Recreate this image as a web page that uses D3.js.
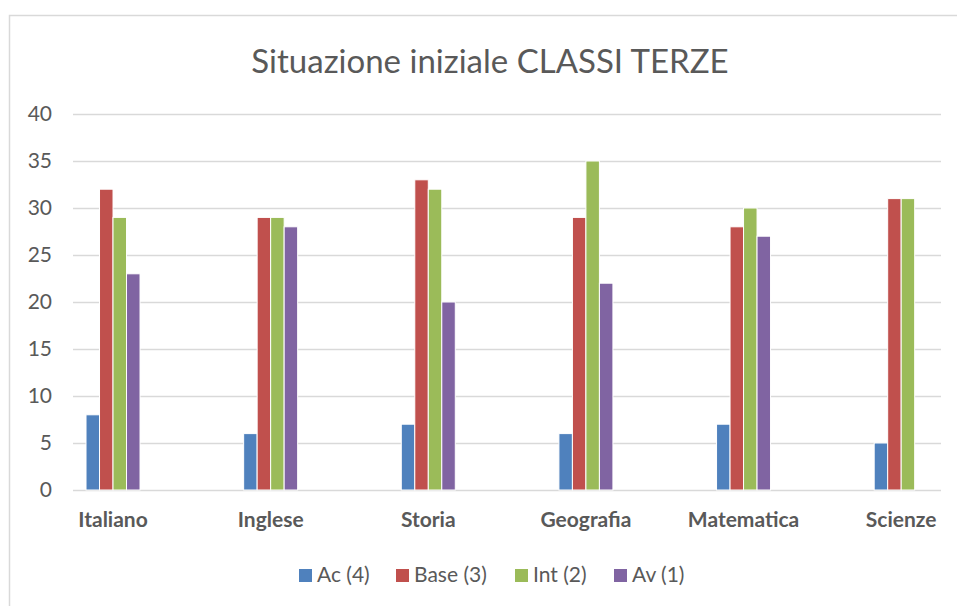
<!DOCTYPE html>
<html>
<head>
<meta charset="utf-8">
<script src="https://cdn.jsdelivr.net/npm/d3@7"></script>
<style>
  body { margin: 0; background: #fff; }
  text { font-family: Lato, "Open Sans", sans-serif; fill: #595959; }
</style>
</head>
<body>
<div id="chart"></div>
<script>
const categories = ["Italiano", "Inglese", "Storia", "Geografia", "Matematica", "Scienze"];
const seriesNames = ["Ac (4)", "Base (3)", "Int (2)", "Av (1)"];
const colors = ["#4F81BD", "#C0504D", "#9BBB59", "#8064A2"];
const ac = [8, 6, 7, 6, 7, 5];
const base = [32, 29, 33, 29, 28, 31];
const int = [29, 29, 32, 35, 30, 31];
const av = [23, 28, 20, 22, 27, null];
const yTicks = [0, 5, 10, 15, 20, 25, 30, 35, 40];

const seriesValues = [ac, base, int, av];

const width = 957, height = 606;
const svg = d3.select("#chart").append("svg")
    .attr("width", width)
    .attr("height", height);

// chart border (cut off at right and bottom like the screenshot)
svg.append("path")
    .attr("d", "M9.5,606 L9.5,15.5 L957,15.5")
    .attr("fill", "none")
    .attr("stroke", "#d9d9d9")
    .attr("stroke-width", 1.5);

svg.append("text")
    .attr("x", 490)
    .attr("y", 73)
    .attr("text-anchor", "middle")
    .style("font-size", "33px")
    .text("Situazione iniziale CLASSI TERZE");

const plotLeft = 73, plotRight = 941;
const y = d3.scaleLinear().domain([0, 40]).range([490, 114]);
const x = d3.scaleBand().domain(categories).range([34.2, 980]);
const xs = d3.scaleBand().domain(d3.range(seriesNames.length)).range([-27, 27]);

// gridlines
svg.append("g").selectAll("line")
    .data(yTicks)
    .enter()
    .append("line")
    .attr("x1", plotLeft)
    .attr("x2", plotRight)
    .attr("y1", d => Math.round(y(d)) + 0.5)
    .attr("y2", d => Math.round(y(d)) + 0.5)
    .attr("stroke", "#d9d9d9")
    .attr("stroke-width", 1.3);

// y axis labels
const yAxis = d3.axisLeft(y).tickValues(yTicks).tickSize(0).tickPadding(0);
svg.append("g")
    .attr("transform", "translate(52,0)")
    .call(yAxis)
    .call(g => g.select(".domain").remove())
    .call(g => g.selectAll("text")
        .style("font-size", "21px")
        .attr("fill", "#595959")
        .attr("font-family", "Lato, 'Open Sans', sans-serif"));

// bars
const groups = svg.append("g").selectAll("g")
    .data(categories)
    .enter()
    .append("g")
    .attr("transform", d => "translate(" + (x(d) + x.bandwidth() / 2) + ",0)");

groups.selectAll("rect")
    .data((c, i) => seriesValues.map((s, k) => ({k: k, v: s[i]})).filter(d => d.v != null))
    .enter()
    .append("rect")
    .attr("x", d => xs(d.k))
    .attr("width", xs.bandwidth())
    .attr("y", d => y(d.v))
    .attr("height", d => y(0) - y(d.v))
    .attr("fill", d => colors[d.k])
    .attr("stroke", "#fff")
    .attr("stroke-width", 1);

// category labels
const xAxis = d3.axisBottom(x).tickSize(0).tickPadding(0);
svg.append("g")
    .attr("transform", "translate(0,512)")
    .call(xAxis)
    .call(g => g.select(".domain").remove())
    .call(g => g.selectAll("text")
        .style("font-size", "21px")
        .style("font-weight", "bold")
        .attr("fill", "#595959")
        .attr("font-family", "Lato, 'Open Sans', sans-serif"));

// legend
const legendX = [299, 396, 515, 614];
const legend = svg.append("g").selectAll("g")
    .data(seriesNames)
    .enter()
    .append("g")
    .attr("transform", (d, i) => "translate(" + legendX[i] + ",569)");

legend.append("rect")
    .attr("width", 13)
    .attr("height", 13)
    .attr("fill", (d, i) => colors[i]);

legend.append("text")
    .attr("x", 18)
    .attr("y", 13)
    .style("font-size", "21px")
    .text(d => d);
</script>
</body>
</html>
